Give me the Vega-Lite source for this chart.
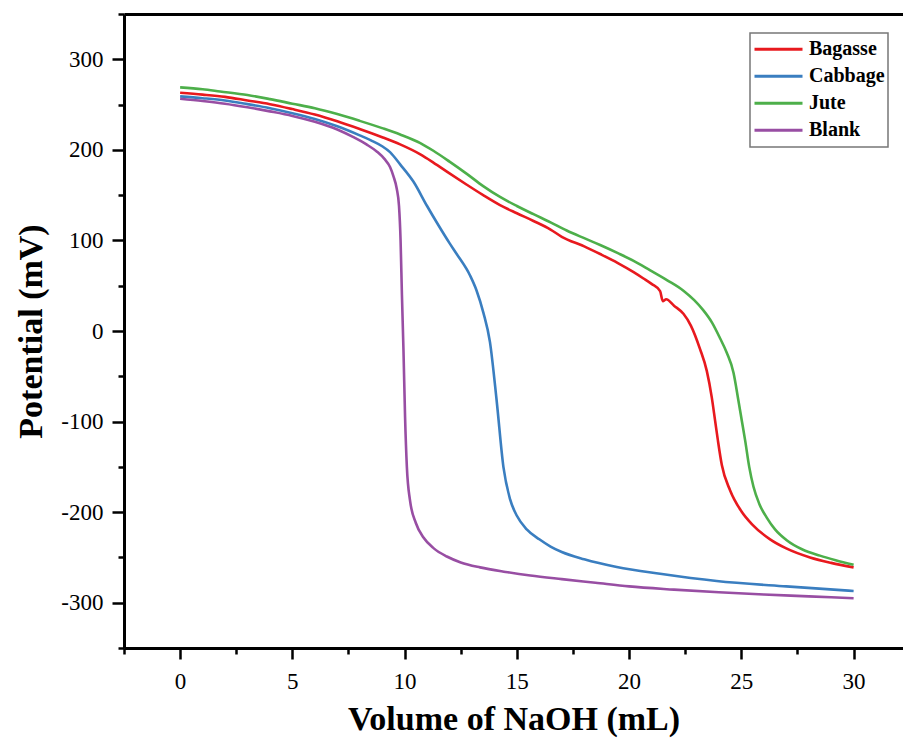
{
"$schema": "https://vega.github.io/schema/vega-lite/v6.json",
"autosize": {"type": "none"},
"width": 779,
"height": 634,
"padding": {"left": 124, "top": 14, "right": 0, "bottom": 90},
"background": "white",
"config": {"view": {"stroke": null}, "font": "Liberation Serif"},
"datasets": {"d": [
{"s":"Bagasse","x":0,"v":263},{"s":"Bagasse","x":1,"v":261},{"s":"Bagasse","x":2,"v":258.5},{"s":"Bagasse","x":3,"v":254.5},{"s":"Bagasse","x":4,"v":250.4},{"s":"Bagasse","x":5,"v":245},{"s":"Bagasse","x":6,"v":239},{"s":"Bagasse","x":7,"v":231.5},{"s":"Bagasse","x":8,"v":223},{"s":"Bagasse","x":9,"v":214},{"s":"Bagasse","x":9.8,"v":206},{"s":"Bagasse","x":10.7,"v":195},{"s":"Bagasse","x":11.28,"v":186},{"s":"Bagasse","x":12,"v":174},{"s":"Bagasse","x":12.77,"v":161.5},{"s":"Bagasse","x":13.5,"v":150},{"s":"Bagasse","x":14.25,"v":139},{"s":"Bagasse","x":15,"v":130},{"s":"Bagasse","x":15.74,"v":121.5},{"s":"Bagasse","x":16.5,"v":112},{"s":"Bagasse","x":17,"v":104},{"s":"Bagasse","x":18,"v":93.5},{"s":"Bagasse","x":18.71,"v":85},{"s":"Bagasse","x":19.5,"v":75},{"s":"Bagasse","x":20.2,"v":65},{"s":"Bagasse","x":20.64,"v":58},{"s":"Bagasse","x":21,"v":52},{"s":"Bagasse","x":21.38,"v":44},{"s":"Bagasse","x":21.5,"v":33},{"s":"Bagasse","x":21.65,"v":35},{"s":"Bagasse","x":22,"v":28},{"s":"Bagasse","x":22.42,"v":19},{"s":"Bagasse","x":22.75,"v":6},{"s":"Bagasse","x":23.16,"v":-20},{"s":"Bagasse","x":23.46,"v":-44},{"s":"Bagasse","x":23.68,"v":-73},{"s":"Bagasse","x":23.83,"v":-99},{"s":"Bagasse","x":23.95,"v":-120},{"s":"Bagasse","x":24.13,"v":-148},{"s":"Bagasse","x":24.5,"v":-176},{"s":"Bagasse","x":25,"v":-199},{"s":"Bagasse","x":25.5,"v":-214},{"s":"Bagasse","x":26.28,"v":-230},{"s":"Bagasse","x":27,"v":-240},{"s":"Bagasse","x":28.06,"v":-250},{"s":"Bagasse","x":29,"v":-256},{"s":"Bagasse","x":30,"v":-261},
{"s":"Cabbage","x":0,"v":259},{"s":"Cabbage","x":1,"v":257},{"s":"Cabbage","x":2,"v":254.5},{"s":"Cabbage","x":3,"v":250.5},{"s":"Cabbage","x":4,"v":246},{"s":"Cabbage","x":5,"v":240.5},{"s":"Cabbage","x":6,"v":234},{"s":"Cabbage","x":7,"v":226},{"s":"Cabbage","x":8,"v":216},{"s":"Cabbage","x":8.5,"v":210.5},{"s":"Cabbage","x":9,"v":204},{"s":"Cabbage","x":9.35,"v":197.5},{"s":"Cabbage","x":9.8,"v":184},{"s":"Cabbage","x":10.39,"v":165},{"s":"Cabbage","x":11,"v":138},{"s":"Cabbage","x":11.5,"v":117},{"s":"Cabbage","x":12,"v":97},{"s":"Cabbage","x":12.32,"v":85},{"s":"Cabbage","x":12.92,"v":61},{"s":"Cabbage","x":13.2,"v":45},{"s":"Cabbage","x":13.51,"v":20},{"s":"Cabbage","x":13.8,"v":-12},{"s":"Cabbage","x":14.1,"v":-77},{"s":"Cabbage","x":14.4,"v":-150},{"s":"Cabbage","x":14.7,"v":-186},{"s":"Cabbage","x":15,"v":-204},{"s":"Cabbage","x":15.44,"v":-219},{"s":"Cabbage","x":16,"v":-230},{"s":"Cabbage","x":16.5,"v":-238},{"s":"Cabbage","x":17,"v":-244},{"s":"Cabbage","x":18,"v":-252},{"s":"Cabbage","x":19.45,"v":-260.5},{"s":"Cabbage","x":21.38,"v":-268},{"s":"Cabbage","x":23.9,"v":-276},{"s":"Cabbage","x":27,"v":-282},{"s":"Cabbage","x":30,"v":-287},
{"s":"Jute","x":0,"v":269},{"s":"Jute","x":1,"v":267},{"s":"Jute","x":1.78,"v":264.5},{"s":"Jute","x":3,"v":260.5},{"s":"Jute","x":4,"v":256},{"s":"Jute","x":5,"v":251},{"s":"Jute","x":6,"v":246},{"s":"Jute","x":7,"v":239.5},{"s":"Jute","x":8,"v":232},{"s":"Jute","x":9,"v":224},{"s":"Jute","x":9.8,"v":217},{"s":"Jute","x":10.7,"v":207.5},{"s":"Jute","x":11.28,"v":199},{"s":"Jute","x":12,"v":187},{"s":"Jute","x":12.77,"v":173.5},{"s":"Jute","x":13.5,"v":160},{"s":"Jute","x":14.25,"v":148},{"s":"Jute","x":15,"v":138},{"s":"Jute","x":15.74,"v":129},{"s":"Jute","x":16.5,"v":120},{"s":"Jute","x":17.22,"v":111},{"s":"Jute","x":18,"v":102.5},{"s":"Jute","x":18.71,"v":95},{"s":"Jute","x":19.5,"v":86},{"s":"Jute","x":20.2,"v":77.5},{"s":"Jute","x":20.94,"v":67},{"s":"Jute","x":21.7,"v":56},{"s":"Jute","x":22.42,"v":44.5},{"s":"Jute","x":22.9,"v":34},{"s":"Jute","x":23.3,"v":23},{"s":"Jute","x":23.7,"v":9},{"s":"Jute","x":24.05,"v":-8},{"s":"Jute","x":24.35,"v":-24},{"s":"Jute","x":24.65,"v":-46},{"s":"Jute","x":24.87,"v":-77},{"s":"Jute","x":25.02,"v":-99},{"s":"Jute","x":25.17,"v":-121},{"s":"Jute","x":25.35,"v":-150},{"s":"Jute","x":25.54,"v":-172},{"s":"Jute","x":25.8,"v":-191},{"s":"Jute","x":26.13,"v":-206},{"s":"Jute","x":26.5,"v":-219},{"s":"Jute","x":27.02,"v":-231},{"s":"Jute","x":27.7,"v":-241},{"s":"Jute","x":28.5,"v":-248},{"s":"Jute","x":29.2,"v":-253},{"s":"Jute","x":30,"v":-258},
{"s":"Blank","x":0,"v":256.5},{"s":"Blank","x":1,"v":254},{"s":"Blank","x":2,"v":251},{"s":"Blank","x":3,"v":247},{"s":"Blank","x":4,"v":242.5},{"s":"Blank","x":5,"v":237.5},{"s":"Blank","x":6,"v":231},{"s":"Blank","x":7,"v":222.5},{"s":"Blank","x":7.72,"v":214},{"s":"Blank","x":8.3,"v":206},{"s":"Blank","x":8.77,"v":198},{"s":"Blank","x":9.1,"v":190},{"s":"Blank","x":9.35,"v":181},{"s":"Blank","x":9.5,"v":171},{"s":"Blank","x":9.65,"v":157},{"s":"Blank","x":9.75,"v":138},{"s":"Blank","x":9.82,"v":100},{"s":"Blank","x":9.88,"v":40},{"s":"Blank","x":9.95,"v":-22},{"s":"Blank","x":10.02,"v":-95},{"s":"Blank","x":10.1,"v":-150},{"s":"Blank","x":10.24,"v":-187},{"s":"Blank","x":10.5,"v":-212},{"s":"Blank","x":10.84,"v":-228},{"s":"Blank","x":11.3,"v":-240},{"s":"Blank","x":11.88,"v":-249},{"s":"Blank","x":12.5,"v":-255.5},{"s":"Blank","x":13.36,"v":-261},{"s":"Blank","x":14.5,"v":-266},{"s":"Blank","x":15.6,"v":-270},{"s":"Blank","x":17,"v":-274},{"s":"Blank","x":18.5,"v":-278},{"s":"Blank","x":20,"v":-282},{"s":"Blank","x":22,"v":-285.5},{"s":"Blank","x":24,"v":-288.5},{"s":"Blank","x":26,"v":-291},{"s":"Blank","x":28,"v":-293},{"s":"Blank","x":30,"v":-295}
]},
"data": {"name": "d"},
"layer": [
{
"mark": {"type": "line", "strokeWidth": 2.6, "interpolate": "monotone", "clip": true},
"encoding": {
"x": {"field": "x", "type": "quantitative", "scale": {"domain": [-2.5, 32.2], "nice": false, "zero": false},
"axis": {"orient": "bottom", "values": [0, 5, 10, 15, 20, 25, 30], "labelExpr": "'' + datum.value", "grid": false, "domainColor": "black", "domainWidth": 3, "tickColor": "black", "tickWidth": 2.5, "tickSize": 11, "labelFont": "Liberation Serif", "labelFontSize": 23, "labelColor": "black", "labelPadding": 11, "labelFlush": false, "title": "Volume of NaOH (mL)", "titleFont": "Liberation Serif", "titleFontSize": 34, "titleFontWeight": "bold", "titleColor": "black", "titlePadding": 9}},
"y": {"field": "v", "type": "quantitative", "scale": {"domain": [-350, 350], "nice": false, "zero": false},
"axis": {"orient": "left", "values": [-300, -200, -100, 0, 100, 200, 300], "labelExpr": "'' + datum.value", "grid": false, "domainColor": "black", "domainWidth": 3, "tickColor": "black", "tickWidth": 2.5, "tickSize": 12, "labelFont": "Liberation Serif", "labelFontSize": 23, "labelColor": "black", "labelPadding": 9, "labelFlush": false, "title": "Potential (mV)", "titleFont": "Liberation Serif", "titleFontSize": 34, "titleFontWeight": "bold", "titleColor": "black", "titlePadding": 12}},
"color": {"field": "s", "type": "nominal",
"scale": {"domain": ["Bagasse", "Cabbage", "Jute", "Blank"], "range": ["#e8191e", "#3a7ec0", "#4daf4a", "#984ea3"]},
"legend": {"orient": "none", "legendX": 626, "legendY": 19, "title": null, "symbolType": "stroke", "symbolSize": 2304, "symbolStrokeWidth": 3, "clipHeight": 26.5, "rowPadding": 0, "labelFont": "Liberation Serif", "labelFontSize": 20, "labelFontWeight": "bold", "labelColor": "black", "labelOffset": 5, "padding": 3, "strokeColor": "#777777", "fillColor": "white",
"encode": {"legend": {"update": {"strokeWidth": {"value": 1.5}}}}}}
}
},
{
"mark": {"type": "point", "opacity": 0},
"encoding": {
"x": {"field": "x", "type": "quantitative",
"axis": {"orient": "bottom", "values": [-2.5, 2.5, 7.5, 12.5, 17.5, 22.5, 27.5], "grid": false, "domain": false, "labels": false, "tickColor": "black", "tickWidth": 2.5, "tickSize": 6, "title": null}},
"y": {"field": "v", "type": "quantitative",
"axis": {"orient": "left", "values": [-350, -250, -150, -50, 50, 150, 250, 350], "grid": false, "domain": false, "labels": false, "tickColor": "black", "tickWidth": 2.5, "tickSize": 6, "title": null}}
}
},
{
"mark": {"type": "point", "opacity": 0},
"encoding": {
"x": {"field": "x", "type": "quantitative",
"axis": {"orient": "top", "grid": false, "domainColor": "black", "domainWidth": 3, "ticks": false, "labels": false, "title": null}},
"y": {"field": "v", "type": "quantitative", "axis": null}
}
}
],
"resolve": {"axis": {"x": "independent", "y": "independent"}}
}
